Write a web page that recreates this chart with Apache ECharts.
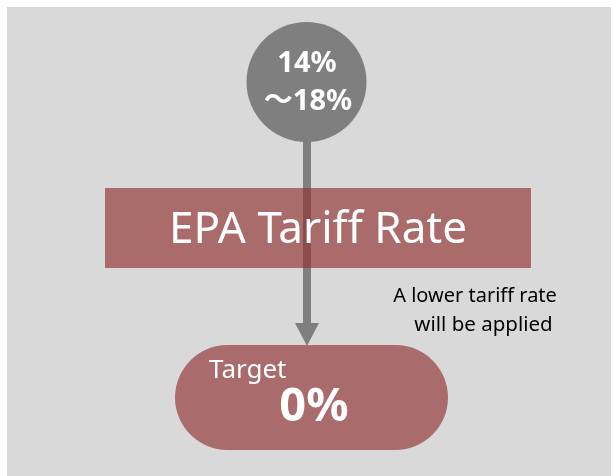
<!DOCTYPE html>
<html>
<head>
<meta charset="utf-8">
<script src="https://cdn.jsdelivr.net/npm/echarts@6/dist/echarts.min.js"></script>
<style>
html,body{margin:0;padding:0;background:#fff;}
#chart{width:615px;height:476px;}
</style>
</head>
<body>
<div id="chart"></div>
<script>
// ---- content ----
const currentRange = ['14%', '～18%'];
const policyTitle = 'EPA Tariff Rate';
const noteLines = ['A lower tariff rate', 'will be applied'];
const targetLabel = 'Target';
const targetValue = '0%';

const FONT = '"Noto Sans", "Noto Sans CJK JP", sans-serif';
const chart = echarts.init(document.getElementById('chart'), null, {renderer: 'canvas'});

function renderItem(params, api) {
  const P = (x, y) => api.coord([x, y]);
  const children = [];
  const bg = P(7, 7), bg2 = P(611, 476);
  children.push({type: 'rect', shape: {x: bg[0], y: bg[1], width: bg2[0] - bg[0], height: bg2[1] - bg[1]}, style: {fill: '#d9d9d9'}});
  // circle
  const c = P(306.5, 82);
  children.push({type: 'circle', shape: {cx: c[0], cy: c[1], r: 60}, style: {fill: '#7f7f7f'}});
  // arrow shaft and head
  const s1 = P(303, 138), s2 = P(311, 324);
  children.push({type: 'rect', shape: {x: s1[0], y: s1[1], width: s2[0] - s1[0], height: s2[1] - s1[1]}, style: {fill: '#7f7f7f'}});
  const h1 = P(295, 323), h2 = P(319, 323), h3 = P(307, 346);
  children.push({type: 'polygon', shape: {points: [h1, h2, h3]}, style: {fill: '#7f7f7f'}});
  // policy box
  const r1 = P(105, 188), r2 = P(531, 268);
  children.push({type: 'rect', shape: {x: r1[0], y: r1[1], width: r2[0] - r1[0], height: r2[1] - r1[1]}, style: {fill: 'rgba(145,50,50,0.66)'}});
  // target pill
  const p1 = P(175, 345), p2 = P(448, 450);
  children.push({type: 'rect', shape: {x: p1[0], y: p1[1], width: p2[0] - p1[0], height: p2[1] - p1[1], r: (p2[1] - p1[1]) / 2}, style: {fill: '#a96b6b'}});
  // texts
  const t = (x, y, text, font, fill, align) => {
    const q = P(x, y);
    children.push({type: 'text', style: {x: q[0], y: q[1], text: text, font: font, fill: fill, align: align || 'center', verticalAlign: 'middle'}});
  };
  t(307, 64, currentRange[0], 'bold 29px ' + FONT, '#fff');
  t(308, 102, currentRange[1], 'bold 29px ' + FONT, '#fff');
  t(318, 230, policyTitle, '44px ' + FONT, '#fff');
  t(475, 296, noteLines[0], '20px ' + FONT, '#000');
  t(483.5, 325, noteLines[1], '20.5px ' + FONT, '#000');
  t(209, 371, targetLabel, '26px ' + FONT, '#fff', 'left');
  t(314, 408, targetValue, 'bold 47px ' + FONT, '#fff');
  return {type: 'group', children: children};
}

chart.setOption({
  animation: false,
  backgroundColor: '#ffffff',
  grid: {left: 0, right: 0, top: 0, bottom: 0},
  xAxis: {type: 'value', min: 0, max: 615, show: false},
  yAxis: {type: 'value', min: 0, max: 476, inverse: true, show: false},
  series: [{
    type: 'custom',
    renderItem: renderItem,
    data: [[0, 0]],
    clip: false,
    silent: true
  }]
});
</script>
</body>
</html>
